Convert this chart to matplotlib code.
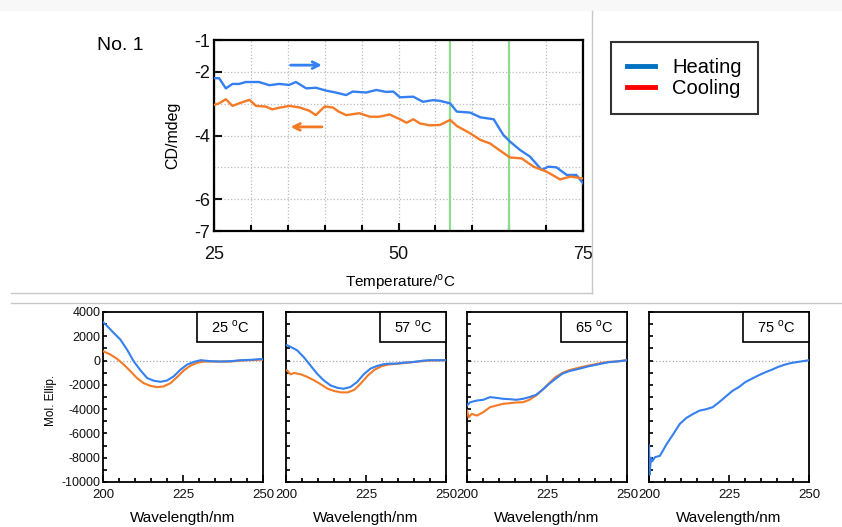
import numpy as np
import matplotlib.pyplot as plt
from matplotlib.lines import Line2D
from matplotlib.patches import Rectangle

plt.rcParams['font.family'] = ['Liberation Sans', 'DejaVu Sans']
plt.rcParams['axes.unicode_minus'] = False

DEG = r'$^\mathregular{o}$C'

# ---- thermal melt (CD at fixed wavelength vs temperature) ----
heat_T = [25, 25.7, 26.6, 27.5, 28.4, 29.3, 31.1, 32.5, 33.8, 35.2, 36.1, 37.5, 38.8,
          40.2, 41.5, 42.9, 43.8, 45.6, 47.0, 48.3, 49.3, 50.2, 52.0, 53.3, 54.7, 55.6,
          57.0, 57.9, 59.7, 61.1, 62.9, 64.2, 65.1, 66.5, 67.8, 69.4, 70.3, 71.4, 72.8,
          74.1, 75]
heat_cd = [-2.20, -2.20, -2.52, -2.38, -2.38, -2.32, -2.32, -2.42, -2.38, -2.41, -2.32,
           -2.52, -2.50, -2.59, -2.65, -2.73, -2.62, -2.65, -2.57, -2.63, -2.62, -2.80,
           -2.78, -2.94, -2.89, -2.91, -2.99, -3.25, -3.28, -3.43, -3.49, -3.98, -4.19,
           -4.46, -4.66, -5.08, -4.98, -5.00, -5.24, -5.24, -5.50]
cool_T = [25, 25.7, 26.6, 27.5, 28.4, 29.8, 30.7, 32.0, 32.9, 33.8, 35.2, 36.6, 37.9,
          38.8, 40.0, 41.1, 41.9, 42.9, 44.7, 46.1, 47.4, 48.8, 50.2, 51.1, 52.0, 52.9,
          54.2, 55.6, 57.0, 57.9, 59.7, 61.1, 62.4, 63.8, 65.1, 66.7, 68.3, 70.1, 71.9,
          73.3, 75]
cool_cd = [-3.04, -2.99, -2.86, -3.07, -2.99, -2.88, -3.07, -3.09, -3.18, -3.13, -3.07,
           -3.12, -3.22, -3.36, -3.09, -3.12, -3.25, -3.36, -3.30, -3.41, -3.41, -3.34,
           -3.49, -3.60, -3.49, -3.62, -3.68, -3.67, -3.51, -3.70, -3.93, -4.14, -4.25,
           -4.48, -4.69, -4.72, -4.98, -5.14, -5.38, -5.29, -5.35]
marker_T = [25, 57, 65, 75]

# ---- CD spectra at selected temperatures ----
panel_temps = ['25', '57', '65', '75']

wl_h25 = [200, 201.3, 203.3, 205.4, 207.5, 209.6, 211.7, 213.8, 215.9, 218.0, 220.0, 222.1,
          224.2, 226.3, 228.4, 230.5, 233.6, 236.7, 239.9, 243.0, 246.1, 250]
me_h25 = [3170, 2840, 2290, 1740, 910, -60, -800, -1440, -1660, -1750, -1640, -1300,
          -750, -330, -110, 30, -50, -80, -50, 30, 60, 140]
wl_c25 = [200, 202.3, 204.4, 206.5, 208.6, 210.6, 212.7, 214.8, 216.9, 218.9, 221.1, 223.2,
          225.3, 227.4, 229.4, 231.5, 235.7, 239.9, 243.0, 250]
me_c25 = [770, 500, 140, -330, -880, -1440, -1860, -2080, -2190, -2130, -1860, -1350,
          -800, -410, -190, -80, -80, -80, 0, 80]

wl_h57 = [200.3, 201.4, 203.4, 205.5, 207.6, 209.7, 211.8, 213.9, 216.0, 218.0, 220.1, 222.2,
          224.3, 226.4, 228.5, 230.5, 232.6, 234.7, 236.8, 238.9, 241.0, 243.0, 245.1, 250]
me_h57 = [1270, 1130, 860, 300, -390, -1080, -1630, -2040, -2240, -2320, -2180, -1770,
          -1130, -660, -440, -300, -250, -250, -170, -140, -80, 0, 30, 30]
wl_c57 = [200.3, 201.4, 202.5, 204.6, 206.7, 208.8, 210.9, 213.0, 215.1, 217.2, 219.3, 221.4,
          223.5, 225.6, 227.7, 229.8, 231.9, 235.0, 238.1, 241.3, 244.4, 250]
me_c57 = [-800, -1130, -1020, -1130, -1350, -1630, -1960, -2320, -2510, -2620, -2620, -2400,
          -1850, -1220, -750, -470, -330, -250, -170, -80, 0, 30]

wl_h65 = [200, 201.0, 203.1, 205.1, 207.2, 209.2, 211.3, 213.3, 215.4, 217.5, 219.5, 221.6,
          223.6, 225.7, 227.7, 229.8, 231.8, 233.9, 236.0, 238.0, 240.1, 242.1, 244.2, 247.3, 250]
me_h65 = [-3700, -3430, -3290, -3230, -3010, -3070, -3150, -3180, -3230, -3150, -3010, -2820,
          -2400, -1910, -1490, -1080, -880, -750, -610, -470, -360, -250, -140, -60, 30]
wl_c65 = [200, 200.5, 201.5, 203.1, 205.1, 207.2, 209.2, 211.3, 213.3, 215.4, 217.5, 219.5,
          221.6, 223.6, 225.7, 227.7, 229.8, 231.8, 233.9, 236.0, 238.0, 240.1, 242.1, 244.2,
          247.3, 250]
me_c65 = [-4120, -4670, -4390, -4530, -4250, -3840, -3700, -3560, -3510, -3450, -3430, -3230,
          -2870, -2400, -1850, -1350, -1020, -800, -660, -520, -410, -300, -190, -110, -60, 30]

wl_h75 = [200, 200.2, 200.6, 201.0, 201.9, 203.4, 205.5, 207.6, 209.6, 211.7, 213.8, 215.8,
          217.8, 219.9, 221.9, 224.0, 226.0, 228.1, 230.1, 232.2, 234.2, 236.3, 238.4, 240.4,
          242.5, 244.6, 246.6, 250]
me_h75 = [-7000, -9400, -8000, -8300, -7950, -7850, -6880, -6050, -5220, -4720, -4390, -4120,
          -4010, -3840, -3430, -2960, -2510, -2180, -1770, -1490, -1220, -970, -750, -520,
          -330, -190, -110, 30]

heat_spectra = [(wl_h25, me_h25), (wl_h57, me_h57), (wl_h65, me_h65), (wl_h75, me_h75)]
cool_spectra = [(wl_c25, me_c25), (wl_c57, me_c57), (wl_c65, me_c65), None]

BLUE = '#3580f0'
ORANGE = '#f47a25'
W, H = 842, 527


def fx(px):
    return px / W


def fy(py):
    return 1 - py / H


fig = plt.figure(figsize=(8.42, 5.27), dpi=100)

# light panel frames from the original slide
fig.patches.append(Rectangle((0, fy(10)), 1, 10 / H, transform=fig.transFigure,
                             color='#f8f8f8', zorder=0))
fig.add_artist(Line2D([fx(592), fx(592)], [fy(11), fy(293)], color='#c8c8c8', lw=1))
fig.add_artist(Line2D([fx(11), fx(592)], [fy(293), fy(293)], color='#c8c8c8', lw=1))
fig.add_artist(Line2D([fx(11), 1], [fy(303), fy(303)], color='#c8c8c8', lw=1))

# ---- top: melting curve ----
ax = fig.add_axes([fx(214), fy(231), 369 / W, 191 / H])
ax.plot(heat_T, heat_cd, color=BLUE, lw=1.7, zorder=3)
ax.plot(cool_T, cool_cd, color=ORANGE, lw=1.7, zorder=3)
for t in marker_T:
    ax.axvline(t, color='#8fdc8f', lw=1.6, zorder=2)
ax.set_xlim(25, 75)
ax.set_ylim(-7, -1)
ax.set_xticks([25, 50, 75])
ax.set_xticks(np.arange(30, 75, 5), minor=True)
ax.set_yticks([-1, -2, -4, -6, -7])
ax.set_yticks([-3, -5], minor=True)
ax.grid(True, which='both', color='#bbbbbb', ls=':', lw=0.9)
ax.tick_params(axis='x', which='major', direction='in', length=6, width=1.5,
               labelsize=13, pad=11, colors='#111111')
ax.tick_params(axis='x', which='minor', direction='in', length=4, width=1.5)
ax.tick_params(axis='y', which='major', direction='in', length=6, width=1.5,
               labelsize=13, pad=3, colors='#111111')
ax.tick_params(axis='y', which='minor', length=0)
for s in ax.spines.values():
    s.set_linewidth(1.6)
ax.set_ylabel('CD/mdeg', fontsize=11.5)
ax.yaxis.set_label_coords(-0.092, 0.5)
ax.set_xlabel('Temperature/' + DEG, fontsize=11)
ax.xaxis.set_label_coords(0.504, -0.215)
ax.annotate('', xy=(40.0, -1.79), xytext=(35.0, -1.79),
            arrowprops=dict(arrowstyle='->', color=BLUE, lw=2, mutation_scale=12))
ax.annotate('', xy=(35.0, -3.73), xytext=(40.0, -3.73),
            arrowprops=dict(arrowstyle='->', color=ORANGE, lw=2, mutation_scale=12))

fig.text(fx(97), fy(45), 'No. 1', fontsize=14, va='center', ha='left')

handles = [Line2D([], [], color='#0070c0', lw=3.5), Line2D([], [], color='#ff0000', lw=3.5)]
leg = fig.legend(handles, ['Heating', 'Cooling'], loc='upper left',
                 bbox_to_anchor=(fx(611), fy(42)), bbox_transform=fig.transFigure,
                 fontsize=14.5, frameon=True, fancybox=False, borderaxespad=0,
                 borderpad=0.8, handlelength=1.4, handletextpad=0.85, labelspacing=0.08)
leg.get_frame().set_edgecolor('black')
leg.get_frame().set_linewidth(1.5)

# ---- bottom: spectra ----
lefts = [103, 286, 467, 649]
for i, left in enumerate(lefts):
    a = fig.add_axes([fx(left), fy(482), 160 / W, 170 / H])
    a.axhline(0, color='#aaaaaa', ls=':', lw=0.9, zorder=1)
    cs = cool_spectra[i]
    if cs is not None:
        a.plot(cs[0], cs[1], color=ORANGE, lw=1.5, zorder=3)
    hs = heat_spectra[i]
    a.plot(hs[0], hs[1], color=BLUE, lw=1.5, zorder=4)
    a.set_xlim(200, 250)
    a.set_ylim(-10000, 4000)
    a.set_xticks([200, 225, 250])
    a.set_xticks(np.arange(205, 250, 5), minor=True)
    a.set_yticks(np.arange(-10000, 4001, 2000))
    a.set_yticks(np.arange(-9000, 4000, 2000), minor=True)
    a.tick_params(axis='x', which='major', direction='in', length=5, width=1.3,
                  labelsize=9.5, pad=5, colors='#111111')
    a.tick_params(axis='x', which='minor', direction='in', length=3, width=1.3)
    a.tick_params(axis='y', which='both', direction='in', length=3, width=1.3,
                  labelsize=9, pad=2, colors='#111111')
    for s in a.spines.values():
        s.set_linewidth(1.3)
    if i > 0:
        a.set_yticklabels([])
    else:
        a.set_ylabel('Mol. Ellip.', fontsize=8.5)
        a.yaxis.set_label_coords(-0.29, 0.48)
    a.set_xlabel('Wavelength/nm', fontsize=11)
    a.xaxis.set_label_coords(0.5, -0.17)
    a.add_patch(Rectangle((1 - 66 / 160, 1 - 30 / 170), 66 / 160, 30 / 170,
                          transform=a.transAxes, fill=True, facecolor='white',
                          edgecolor='black', lw=1.2, zorder=5, clip_on=False))
    a.text(1 - 33 / 160, 1 - 15 / 170, panel_temps[i] + ' ' + DEG, transform=a.transAxes,
           ha='center', va='center', fontsize=10.5, zorder=6)

fig.savefig('out.png', dpi=100)
